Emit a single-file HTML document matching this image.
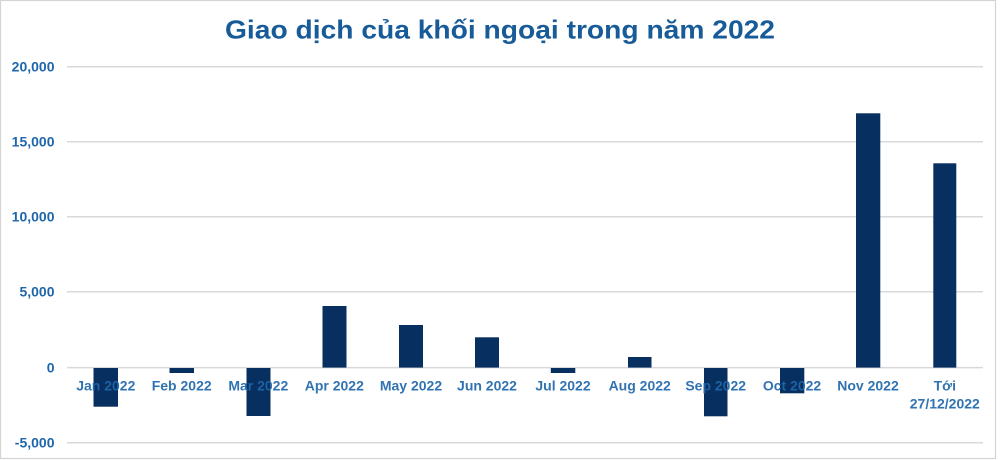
<!DOCTYPE html>
<html><head><meta charset="utf-8"><style>
html,body{margin:0;padding:0;background:#fff;}
svg{display:block;}
</style></head><body>
<svg width="1000" height="460" viewBox="0 0 1000 460" xmlns="http://www.w3.org/2000/svg">
<rect x="0" y="0" width="1000" height="460" fill="#fff"/>
<rect x="0.5" y="0.5" width="995" height="458" fill="none" stroke="#d4d4d4" stroke-width="1.2"/>
<text x="500" y="38.5" text-anchor="middle" font-family="Liberation Sans, sans-serif" font-weight="bold" font-size="26" fill="#175b98" textLength="550" lengthAdjust="spacingAndGlyphs">Giao dịch của khối ngoại trong năm 2022</text>
<g stroke="#d9d9d9" stroke-width="1.5">
<line x1="67" y1="66.7" x2="983" y2="66.7"/>
<line x1="67" y1="141.7" x2="983" y2="141.7"/>
<line x1="67" y1="216.7" x2="983" y2="216.7"/>
<line x1="67" y1="291.7" x2="983" y2="291.7"/>
<line x1="67" y1="367.6" x2="983" y2="367.6"/>
<line x1="67" y1="442.7" x2="983" y2="442.7"/>
</g>
<g font-family="Liberation Sans, sans-serif" font-weight="bold" font-size="14" fill="#1f67aa" text-anchor="end">
<text x="54.5" y="71.7">20,000</text>
<text x="54.5" y="146.7">15,000</text>
<text x="54.5" y="221.7">10,000</text>
<text x="54.5" y="296.7">5,000</text>
<text x="54.5" y="372.6">0</text>
<text x="54.5" y="447.7">-5,000</text>
</g>
<g fill="#072f5f">
<rect x="93.5" y="368" width="24.5" height="38.7"/>
<rect x="169.5" y="368" width="24.5" height="5"/>
<rect x="246.5" y="368" width="24" height="48"/>
<rect x="322.5" y="306" width="24" height="61.6"/>
<rect x="399" y="325" width="24" height="42.6"/>
<rect x="475" y="337.3" width="24" height="30.3"/>
<rect x="550.8" y="368" width="24.5" height="5"/>
<rect x="628" y="357" width="23.5" height="10.6"/>
<rect x="704" y="368" width="23.5" height="48.3"/>
<rect x="780" y="368" width="24.3" height="25.3"/>
<rect x="856" y="113.3" width="24.3" height="254.3"/>
<rect x="933.3" y="163.3" width="23" height="204.3"/>
</g>
<g font-family="Liberation Sans, sans-serif" font-weight="bold" font-size="14" fill="#1f67aa" text-anchor="middle" fill-opacity="0.92">
<text x="105.8" y="390.7">Jan 2022</text>
<text x="181.7" y="390.7">Feb 2022</text>
<text x="258.3" y="390.7">Mar 2022</text>
<text x="334.3" y="390.7">Apr 2022</text>
<text x="411" y="390.7">May 2022</text>
<text x="487" y="390.7">Jun 2022</text>
<text x="563" y="390.7">Jul 2022</text>
<text x="639.7" y="390.7">Aug 2022</text>
<text x="715.7" y="390.7">Sep 2022</text>
<text x="792" y="390.7">Oct 2022</text>
<text x="868" y="390.7">Nov 2022</text>
<text x="944.8" y="390.7">Tới</text>
<text x="944.8" y="408.5">27/12/2022</text>
</g>
</svg>
</body></html>
